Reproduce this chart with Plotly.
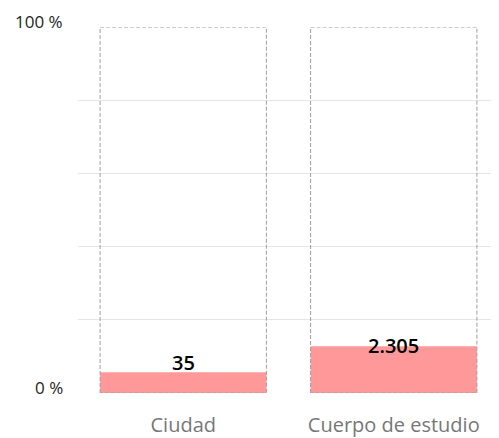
import plotly.graph_objects as go

categories = ["Ciudad", "Cuerpo de estudio"]
percent_values = [5.7, 12.8]
count_labels = ["35", "2.305"]
y_tick_values = [0, 100]
y_tick_labels = ["0 %", "100 %"]
grid_values = [0, 20, 40, 60, 80, 100]

BAR_W = 0.79
x_idx = list(range(len(categories)))

fig = go.Figure()

fig.add_trace(go.Bar(
    x=x_idx, y=percent_values, width=BAR_W,
    marker=dict(color="#FF9999", line=dict(width=0)),
    hoverinfo="skip", showlegend=False,
))

# dashed outline boxes spanning 0-100% for each category
for i in x_idx:
    x0, x1 = i - BAR_W / 2, i + BAR_W / 2
    fig.add_trace(go.Scatter(
        x=[x0, x0, x1, x1, x0], y=[0, 100, 100, 0, 0],
        mode="lines", line=dict(color="#9E9E9E", width=1, dash="4px,2px"),
        hoverinfo="skip", showlegend=False,
    ))

shifts = [10, 1]
for i, (v, lab) in enumerate(zip(percent_values, count_labels)):
    fig.add_annotation(
        x=i, y=v, text=lab, showarrow=False, yanchor="middle", yshift=shifts[i],
        font=dict(family="Open Sans", size=20, color="#000000", weight=600),
    )

# y tick labels as annotations (shifted above gridlines)
for v, lab in zip(y_tick_values, y_tick_labels):
    fig.add_annotation(
        x=0, xref="paper", y=v, yref="y", text=lab, showarrow=False,
        xanchor="right", yanchor="middle", xshift=-13, yshift=6,
        font=dict(family="Open Sans", size=17, color="#252423"),
    )

fig.update_layout(
    width=491, height=430,
    margin=dict(l=70, r=0, t=19, b=45, pad=0),
    plot_bgcolor="white", paper_bgcolor="white",
    xaxis=dict(range=[-0.5, 1.5], tickvals=x_idx, ticktext=categories,
               showgrid=False, zeroline=False, showline=False, ticks="",
               ticklabelstandoff=18,
               tickfont=dict(family="Open Sans", size=20, color="#777777")),
    yaxis=dict(range=[0, 100], tickvals=grid_values, showticklabels=False,
               showgrid=True, gridcolor="#E6E6E6", gridwidth=1,
               zeroline=False, showline=False, ticks=""),
)

fig.write_html("out.html")
